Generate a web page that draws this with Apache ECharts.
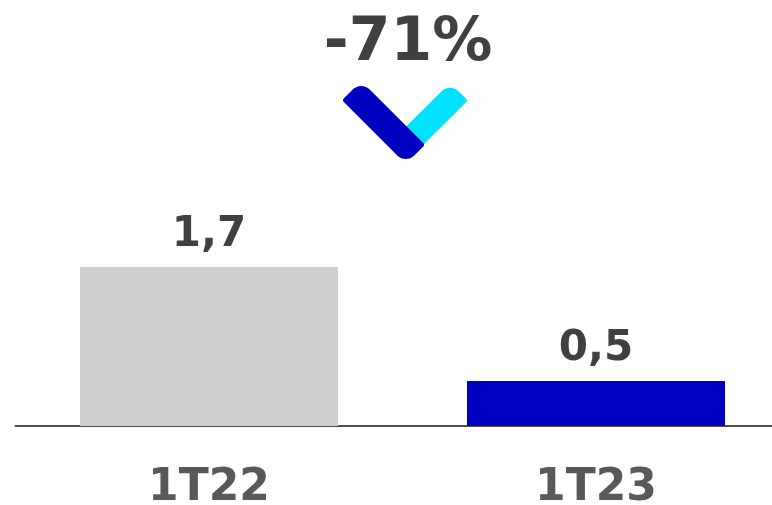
<!DOCTYPE html>
<html>
<head>
<meta charset="utf-8">
<script src="https://cdn.jsdelivr.net/npm/echarts@6/dist/echarts.min.js"></script>
<style>
  html, body { margin: 0; padding: 0; background: #fff; }
  #chart { width: 772px; height: 505px; }
</style>
</head>
<body>
<div id="chart"></div>
<script>
const categories = ['1T22', '1T23']
const values = [1.7, 0.48]
const barColors = ['#d0cfd0', '#0000c0']
const changeLabel = '-71%'

const font = 'DejaVu Sans'
const chart = echarts.init(document.getElementById('chart'))

chart.setOption({
  animation: false,
  title: {
    text: changeLabel,
    left: 403,
    top: 9,
    textAlign: 'center',
    textStyle: { fontFamily: font, fontWeight: 'bold', fontSize: 60, color: '#404040' }
  },
  grid: { left: 15.5, right: -17.5, top: 52, bottom: 79, outerBoundsMode: 'none' },
  xAxis: {
    type: 'category',
    data: categories,
    axisTick: { show: false },
    axisLine: { lineStyle: { color: '#505050', width: 2 } },
    axisLabel: { margin: 41, fontFamily: font, fontWeight: 'bold', fontSize: 44, color: '#595959' }
  },
  yAxis: { type: 'value', min: 0, max: 4, show: false, splitLine: { show: false } },
  series: [{
    type: 'bar',
    barWidth: 258,
    data: values.map((v, i) => ({ value: v, itemStyle: { color: barColors[i] } })),
    label: {
      show: true,
      position: 'top',
      distance: 11,
      fontFamily: font,
      fontWeight: 'bold',
      fontSize: 42,
      color: '#404040',
      formatter: p => p.value.toFixed(1).replace('.', ',')
    }
  }],
  graphic: [
    // chevron: cyan arm underneath, dark blue arm on top
    {
      type: 'rect', x: 432, y: 118.5, rotation: Math.PI / 4,
      shape: { x: -38, y: -12.5, width: 76, height: 25, r: [2, 12, 2, 2] },
      style: { fill: '#00e1fb' }
    },
    {
      type: 'rect', x: 383.5, y: 122.5, rotation: -Math.PI / 4,
      shape: { x: -45, y: -13.5, width: 90, height: 27, r: [12, 2, 12, 2] },
      style: { fill: '#0000c0' }
    }
  ]
})
</script>
</body>
</html>
